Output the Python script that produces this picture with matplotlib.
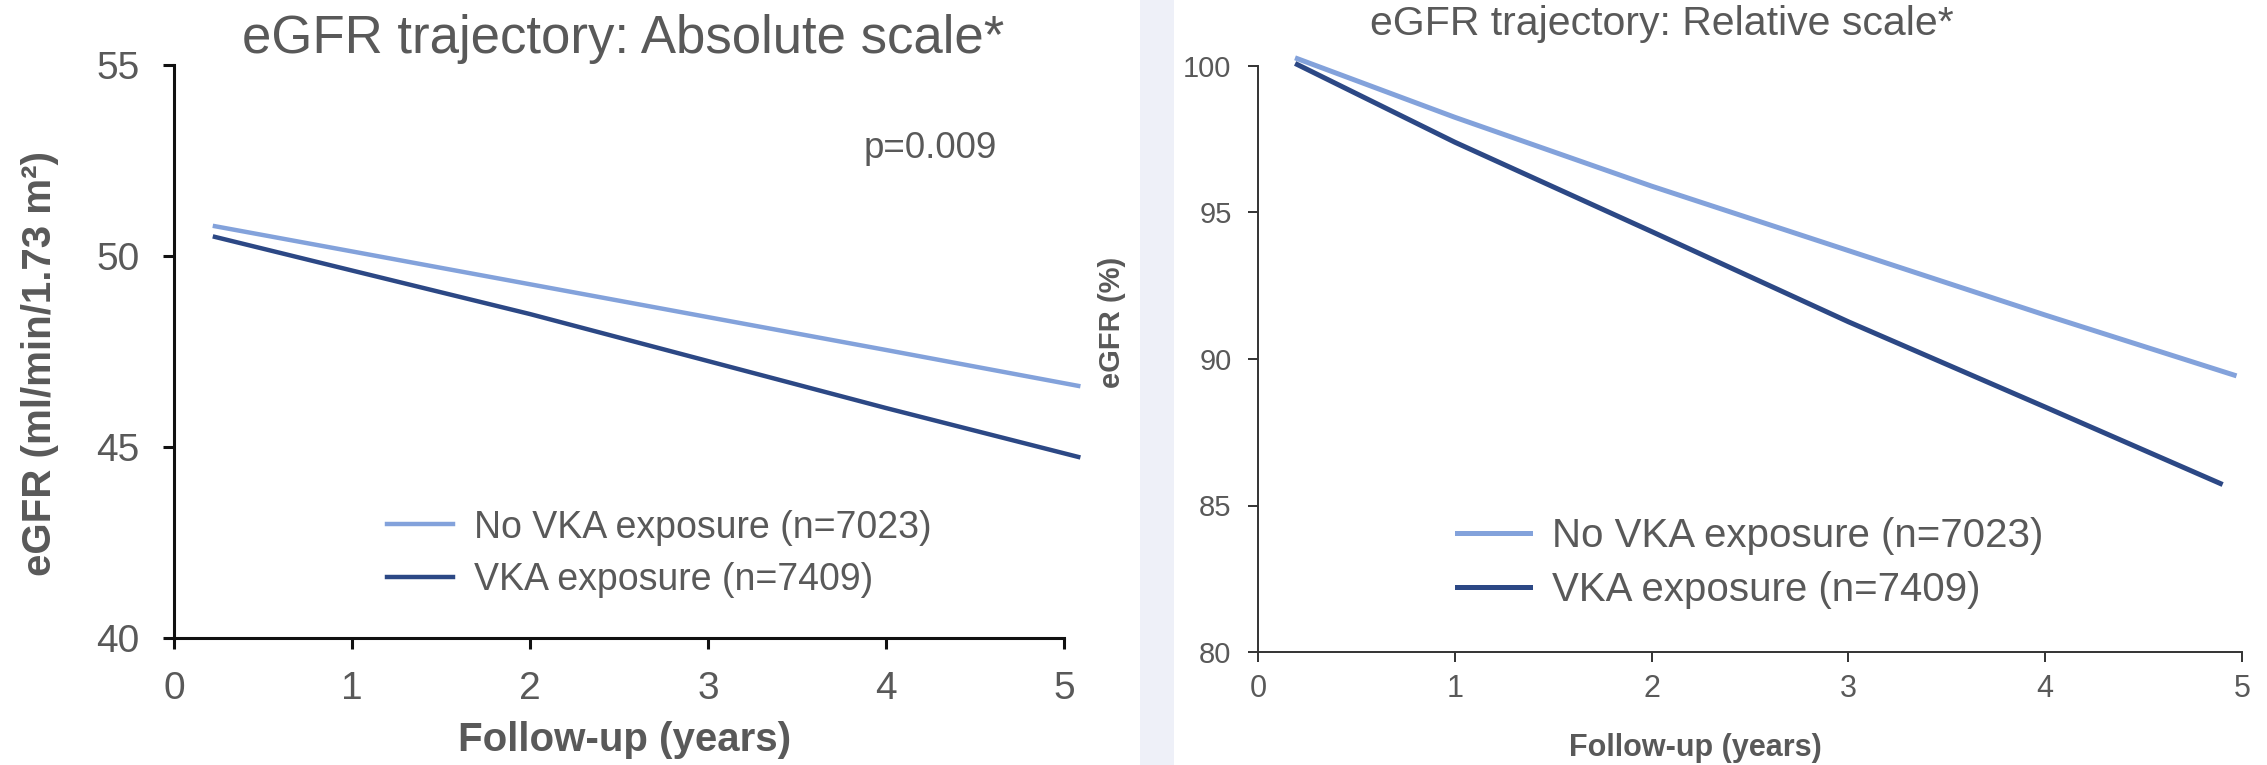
import matplotlib
matplotlib.use("Agg")
import matplotlib.pyplot as plt
from matplotlib.patches import Rectangle

plt.rcParams['font.family'] = ['Liberation Sans', 'DejaVu Sans']

# --- data ---
labels = ['No VKA exposure (n=7023)', 'VKA exposure (n=7409)']

abs_x_no = [0.23, 1, 2, 3, 4, 5.08]
abs_no = [50.78, 50.12, 49.26, 48.40, 47.54, 46.60]
abs_x_vka = [0.23, 1, 2, 3, 4, 5.08]
abs_vka = [50.50, 49.62, 48.48, 47.25, 46.02, 44.74]

rel_x_no = [0.2, 1, 2, 3, 4, 4.96]
rel_no = [100.25, 98.25, 95.9, 93.7, 91.5, 89.45]
rel_x_vka = [0.2, 1, 2, 3, 4, 4.89]
rel_vka = [100.05, 97.4, 94.35, 91.27, 88.36, 85.75]

abs_yticks = [40, 45, 50, 55]
rel_yticks = [80, 85, 90, 95, 100]
xticks = [0, 1, 2, 3, 4, 5]

light = '#83A2DB'
dark = '#2C4885'
grey = '#595959'

W, H = 2267, 765
fig = plt.figure(figsize=(W / 100, H / 100), dpi=100)


def fx(px):
    return px / W


def fy(py):
    return 1 - py / H


# faint background strip between the two panels
fig.patches.append(Rectangle((fx(1140), 0), fx(34), 1, transform=fig.transFigure,
                             facecolor='#eef0f8', edgecolor='none', zorder=0))

# ---------- left panel: absolute scale ----------
ax1 = fig.add_axes([fx(174), fy(638), fx(1064 - 174), (638 - 65) / H])
ax1.plot(abs_x_no, abs_no, color=light, lw=3.2, clip_on=False, label=labels[0])
ax1.plot(abs_x_vka, abs_vka, color=dark, lw=3.2, clip_on=False, label=labels[1])
ax1.set_xlim(0, 5)
ax1.set_ylim(40, 55)
ax1.set_xticks(xticks)
ax1.set_yticks(abs_yticks)
for s in ['top', 'right']:
    ax1.spines[s].set_visible(False)
for s in ['left', 'bottom']:
    ax1.spines[s].set_linewidth(2.2)
    ax1.spines[s].set_color('#111111')
ax1.tick_params(axis='both', direction='out', length=8, width=2.2, color='#111111',
                labelsize=28, labelcolor=grey)
ax1.tick_params(axis='y', pad=17)
ax1.tick_params(axis='x', pad=16)
leg1 = ax1.legend(loc='center left', bbox_to_anchor=(fx(387), fy(554)),
                  bbox_transform=fig.transFigure, frameon=False, fontsize=27,
                  handlelength=1.76, handletextpad=0.56, labelspacing=0.45,
                  borderpad=0, borderaxespad=0)
for t in leg1.get_texts():
    t.set_color(grey)

fig.text(fx(623), fy(53), 'eGFR trajectory: Absolute scale*', ha='center', va='baseline',
         fontsize=38, color=grey)
fig.text(fx(930), fy(158), 'p=0.009', ha='center', va='baseline', fontsize=26.5, color=grey)
fig.text(fx(40), fy(363), 'eGFR (ml/min/1.73 m²)', rotation=90, ha='center', va='center',
         fontsize=29, fontweight='bold', color=grey)
fig.text(fx(625), fy(740), 'Follow-up (years)', ha='center', va='center',
         fontsize=29, fontweight='bold', color=grey)

# ---------- right panel: relative scale ----------
ax2 = fig.add_axes([fx(1258), fy(652), fx(2242 - 1258), (652 - 66) / H])
ax2.plot(rel_x_no, rel_no, color=light, lw=3.6, clip_on=False, label=labels[0])
ax2.plot(rel_x_vka, rel_vka, color=dark, lw=3.6, clip_on=False, label=labels[1])
ax2.set_xlim(0, 5)
ax2.set_ylim(80, 100)
ax2.set_xticks(xticks)
ax2.set_yticks(rel_yticks)
for s in ['top', 'right']:
    ax2.spines[s].set_visible(False)
for s in ['left', 'bottom']:
    ax2.spines[s].set_linewidth(1.4)
    ax2.spines[s].set_color('#333333')
ax2.tick_params(axis='both', direction='out', length=7, width=1.4, color='#333333',
                labelcolor=grey)
ax2.tick_params(axis='y', pad=12, labelsize=21)
ax2.tick_params(axis='x', pad=9, labelsize=22)
leg2 = ax2.legend(loc='center left', bbox_to_anchor=(fx(1457), fy(563)),
                  bbox_transform=fig.transFigure, frameon=False, fontsize=29,
                  handlelength=1.8, handletextpad=0.55, labelspacing=0.4,
                  borderpad=0, borderaxespad=0)
for t in leg2.get_texts():
    t.set_color(grey)

fig.text(fx(1370), fy(35), 'eGFR trajectory: Relative scale*', ha='left', va='baseline',
         fontsize=29.5, color=grey)
fig.text(fx(1112), fy(322), 'eGFR (%)', rotation=90, ha='center', va='center',
         fontsize=21, fontweight='bold', color=grey)
fig.text(fx(1695), fy(748), 'Follow-up (years)', ha='center', va='center',
         fontsize=22, fontweight='bold', color=grey)

fig.savefig('out.png', dpi=100)
